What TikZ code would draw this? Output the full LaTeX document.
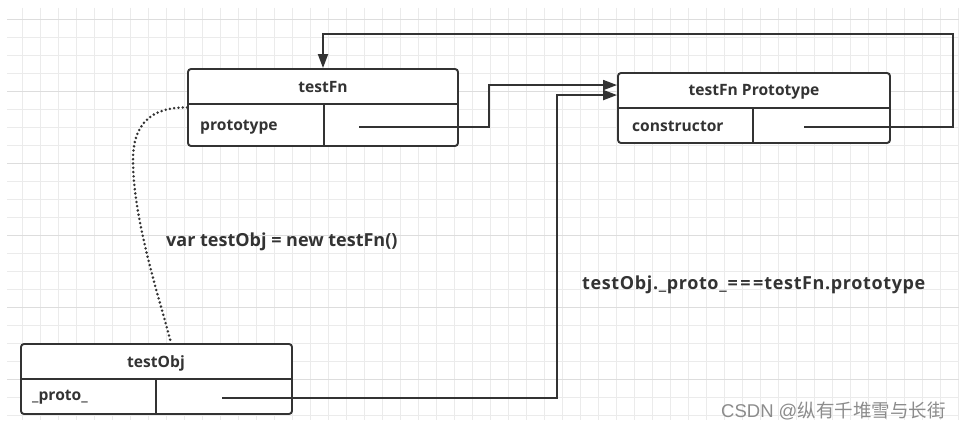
\documentclass[tikz,border=0pt]{standalone}
\usepackage{fontspec}
\setmainfont{Open Sans}
\newfontfamily\cjkfont{Noto Sans CJK SC}
\newfontfamily\wmfont{Liberation Sans}
\usetikzlibrary{arrows.meta,calc}
\definecolor{ink}{HTML}{333333}
\definecolor{gridfine}{HTML}{EBEBEB}
\definecolor{gridmajor}{HTML}{DDDDDD}
\definecolor{wmgray}{HTML}{8C8C8C}
\begin{document}
\begin{tikzpicture}[x=1pt,y=-1pt,
  box/.style={draw=ink, line width=1.9pt, rounded corners=3pt, fill=white, inner sep=0pt},
  sep/.style={draw=ink, line width=1.9pt},
  lbl/.style={font=\fontsize{15.6}{18}\selectfont\bfseries, text=ink, inner sep=0pt},
  biglbl/.style={font=\fontsize{18}{21}\selectfont\bfseries, text=ink, inner sep=0pt},
  conn/.style={draw=ink, line width=1.9pt},
  arr/.style={conn, -{Triangle[length=14pt,width=10pt]}},
  dotc/.style={draw=ink, line width=2.8pt, line cap=round, dash pattern=on 0pt off 4.3pt},
  gridc/.style={draw=gridfine, line width=0.8pt},
  gridm/.style={draw=gridmajor, line width=0.9pt}]
\useasboundingbox (0,0) rectangle (968,430);
\fill[white] (0,0) rectangle (968,430);
% grid
\foreach \x in {22,40,...,958} \draw[gridc] (\x,8) -- (\x,420);
\foreach \y in {19,37,...,415} \draw[gridc] (7,\y) -- (959,\y);
\foreach \y in {19,91,...,415} \draw[gridm] (7,\y) -- (959,\y);
% boxes
\node[box, minimum width=270pt, minimum height=77pt] (fn) at (323,107.5) {};
\draw[sep] (188,104) -- (458,104);
\draw[sep] (324,104) -- (324,146);
\node[lbl] (fnT) at (323,87) {testFn};
\node[lbl, anchor=west] (fnK) at (200,127) {prototype};

\node[box, minimum width=272pt, minimum height=70pt] (pr) at (754,108) {};
\draw[sep] (618,108) -- (890,108);
\draw[sep] (753,108) -- (753,143);
\node[lbl] (prT) at (754,92) {testFn Prototype};
\node[lbl, anchor=west] (prK) at (632,126) {constructor};

\node[box, minimum width=271pt, minimum height=70pt] (obj) at (156.5,379) {};
\draw[sep] (21,379) -- (292,379);
\draw[sep] (156,379) -- (156,414);
\node[lbl] (objT) at (156,363) {testObj};
\node[lbl, anchor=west] (objK) at (32,397) {\_proto\_};

% free labels
\node[biglbl, anchor=west] (newL) at (166,242) {var testObj = new testFn()};
\node[biglbl, anchor=west] (eqL) at (582,285) {\addfontfeatures{LetterSpace=3.5}testObj.\_proto\_\kern1pt=\kern2.5pt=\kern2.5pt=\kern1pt testFn.prototype};
\node[anchor=west, inner sep=0pt, text=wmgray, font=\fontsize{18.5}{21}\selectfont] (wm) at (721,411) {\wmfont CSDN @\cjkfont 纵有千堆雪与长街};

% connectors
\coordinate (fnP) at (359,127);
\coordinate (prP) at (804,127);
\coordinate (objP) at (222,398);
\draw[arr] (fnP) -- (489,127) |- ([yshift=-13pt]pr.north west);
\draw[arr] (objP) -- (557,398) |- ([yshift=-23pt]pr.north west);
\draw[arr] (prP) -- (953,127) -- (953,34) -| (fn.north);
\draw[dotc] (fn.west) .. controls (150,107) and (133,125) .. (133,160)
  .. controls (133,220) and (160,300) .. ([xshift=14.5pt]obj.north);
\end{tikzpicture}
\end{document}
